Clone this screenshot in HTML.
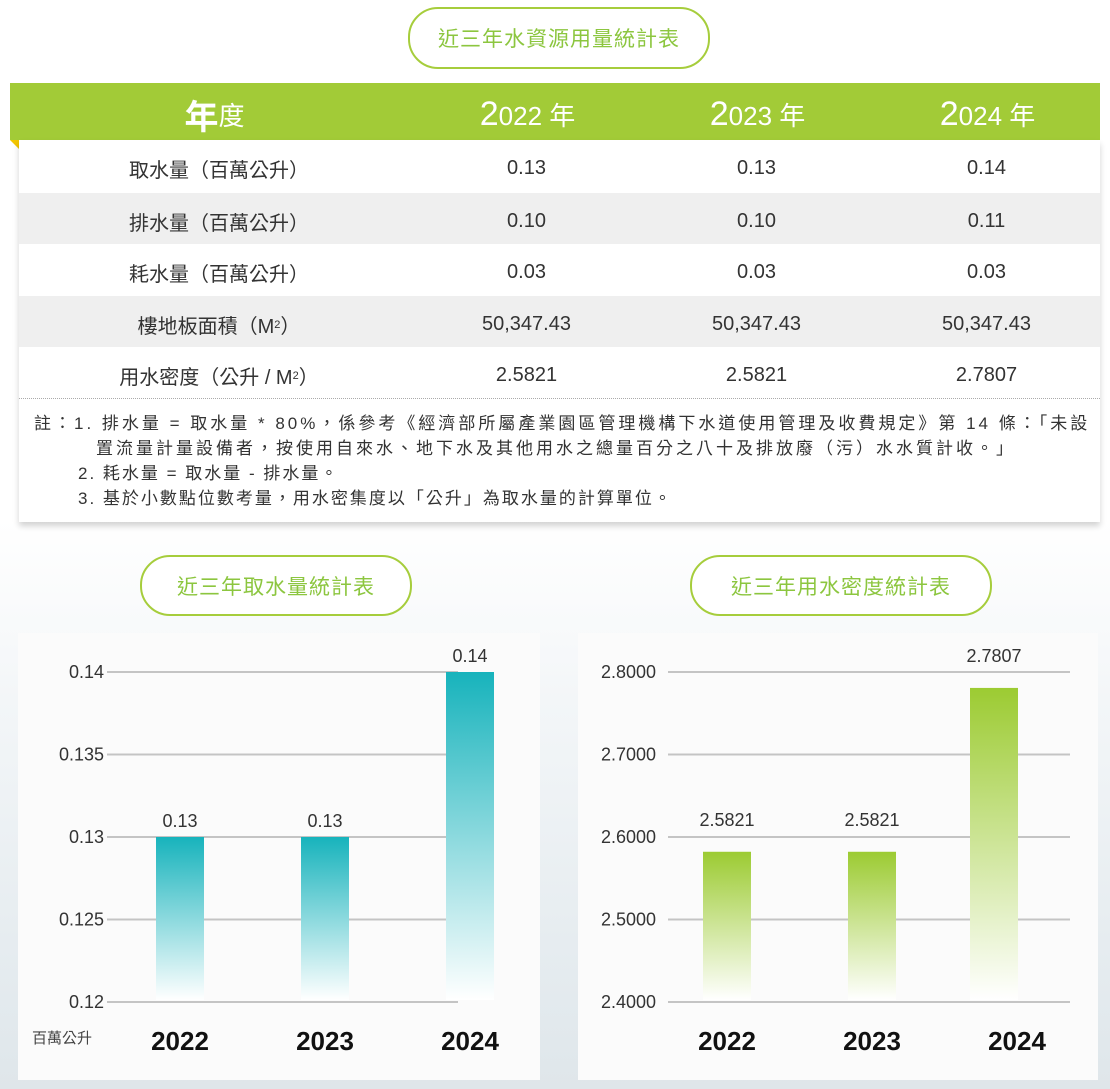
<!DOCTYPE html>
<html><head><meta charset="utf-8">
<style>
*{margin:0;padding:0;box-sizing:border-box}
body{width:1110px;height:1089px;overflow:hidden;position:relative;font-family:"Liberation Sans","Noto Sans CJK TC",sans-serif;background:linear-gradient(#fff 0,#fff 520px,#f3f6f8 700px,#e3eaee 1000px,#dfe6ea 1089px);color:#333}
.pill{position:absolute;border:2.5px solid #a6cd3c;border-radius:30px;background:#fff;color:#8cc63f;font-size:21px;display:flex;align-items:center;justify-content:center;letter-spacing:1px}
#hdr{position:absolute;left:10px;top:83px;width:1090px;height:57px;background:#a2cb37;color:#fff;font-size:26px}
#hdr div,.row div{position:absolute;top:3px;height:100%;display:flex;align-items:center;justify-content:center}
#tbl{position:absolute;left:19px;top:140px;width:1081px;height:382px;background:#fff;box-shadow:0 4px 6px rgba(0,0,0,.18)}
.row{position:absolute;left:0;width:1081px;height:51px;font-size:20px;color:#333}
.c0{left:0;width:400px}.c1{left:400px;width:215px}.c2{left:630px;width:215px}.c3{left:860px;width:215px}
#note{position:absolute;left:15px;top:271px;font-size:17px;line-height:25px;color:#333;white-space:nowrap}
.panel{position:absolute;background:#fbfbfb}
svg text{font-family:"Liberation Sans","Noto Sans CJK TC",sans-serif}
</style></head><body>
<div class="pill" style="left:408px;top:7px;width:302px;height:62px">近三年水資源用量統計表</div>
<div id="hdr">
<div style="left:0;width:409px"><span style="font-size:34px;font-weight:bold">年</span>度</div>
<div style="left:410px;width:215px"><span style="font-size:34px">2</span>022 年</div>
<div style="left:640px;width:215px"><span style="font-size:34px">2</span>023 年</div>
<div style="left:870px;width:215px"><span style="font-size:34px">2</span>024 年</div>
</div>
<div style="position:absolute;left:10px;top:140px;width:0;height:0;border-top:9px solid #f2c500;border-left:9px solid transparent"></div>
<div id="tbl">
<div class="row" style="top:0;background:#fff"><div class="c0">取水量（百萬公升）</div><div class="c1">0.13</div><div class="c2">0.13</div><div class="c3">0.14</div></div>
<div class="row" style="top:53px;height:51px;background:#efefef"><div class="c0">排水量（百萬公升）</div><div class="c1">0.10</div><div class="c2">0.10</div><div class="c3">0.11</div></div>
<div class="row" style="top:104px;background:#fff"><div class="c0">耗水量（百萬公升）</div><div class="c1">0.03</div><div class="c2">0.03</div><div class="c3">0.03</div></div>
<div class="row" style="top:156px;background:#efefef"><div class="c0">樓地板面積（M<sup style="font-size:11px">2</sup>）</div><div class="c1">50,347.43</div><div class="c2">50,347.43</div><div class="c3">50,347.43</div></div>
<div class="row" style="top:207px;background:#fff"><div class="c0">用水密度（公升 / M<sup style="font-size:11px">2</sup>）</div><div class="c1">2.5821</div><div class="c2">2.5821</div><div class="c3">2.7807</div></div>
<div style="position:absolute;left:0;top:258px;width:1081px;border-top:1.5px dotted #aaa"></div>
<div id="note">
<div style="letter-spacing:3px">註：1. 排水量 = 取水量 * 80%，係參考《經濟部所屬產業園區管理機構下水道使用管理及收費規定》第 14 條：「未設</div>
<div style="padding-left:62px;letter-spacing:3px">置流量計量設備者，按使用自來水、地下水及其他用水之總量百分之八十及排放廢（污）水水質計收。」</div>
<div style="padding-left:44px;letter-spacing:2px">2. 耗水量 = 取水量 - 排水量。</div>
<div style="padding-left:44px;letter-spacing:2px">3. 基於小數點位數考量，用水密集度以「公升」為取水量的計算單位。</div>
</div>
</div>
<div class="panel" style="left:18px;top:633px;width:522px;height:447px"></div>
<div class="panel" style="left:578px;top:633px;width:520px;height:447px"></div>
<div class="pill" style="left:140px;top:555px;width:272px;height:61px">近三年取水量統計表</div>
<div class="pill" style="left:690px;top:555px;width:302px;height:61px">近三年用水密度統計表</div>
<svg id="svg" width="1110" height="1089" style="position:absolute;left:0;top:0">
<defs>
<linearGradient id="gt" x1="0" y1="0" x2="0" y2="1"><stop offset="0" stop-color="#17b3bc"/><stop offset="1" stop-color="#ffffff"/></linearGradient>
<linearGradient id="gg" x1="0" y1="0" x2="0" y2="1"><stop offset="0" stop-color="#9ccb32"/><stop offset="1" stop-color="#ffffff"/></linearGradient>
</defs>
</svg>
<script>
const categories=["2022","2023","2024"];
const intakeValues=[0.13,0.13,0.14];
const intakeLabels=["0.13","0.13","0.14"];
const intakeTicks=[0.12,0.125,0.13,0.135,0.14];
const intakeTickLabels=["0.12","0.125","0.13","0.135","0.14"];
const densityValues=[2.5821,2.5821,2.7807];
const densityLabels=["2.5821","2.5821","2.7807"];
const densityTicks=[2.4,2.5,2.6,2.7,2.8];
const densityTickLabels=["2.4000","2.5000","2.6000","2.7000","2.8000"];
const svg=document.getElementById('svg');
const NS='http://www.w3.org/2000/svg';
function mk(t,a,txt){const e=document.createElementNS(NS,t);for(const k in a)e.setAttribute(k,a[k]);if(txt!=null)e.textContent=txt;svg.appendChild(e);return e;}
function chart(o){
  const y=v=>1002-(v-o.min)/(o.max-o.min)*330;
  const x=i=>o.x0+i*145;
  o.ticks.forEach((t,i)=>{
    const l=mk('line',{x1:o.gx1,x2:o.gx2,y1:y(t),y2:y(t),stroke:'#c4c4c4','stroke-width':2});
    
    
    const tx=mk('text',{x:o.tx,y:y(t)+6,'text-anchor':'end','font-size':18,fill:'#333'},o.tickLabels[i]);
    
    
  });
  o.values.forEach((v,i)=>{
    const bx=x(i)-(i===2?o.shift:0);
    const r=mk('rect',{x:bx-24,y:y(v),width:48,height:1000-y(v),fill:o.fill});
    
    
    const t=mk('text',{x:bx,y:y(v)-o.lo,'text-anchor':'middle','font-size':18,fill:'#333'},o.labels[i]);
    
    
    const c=mk('text',{x:x(i),y:1050,'text-anchor':'middle','font-size':26,'font-weight':'bold',fill:'#111'},categories[i]);
    
    
  });
}
chart({p:'intake',min:0.12,max:0.14,ticks:intakeTicks,tickLabels:intakeTickLabels,values:intakeValues,labels:intakeLabels,x0:180,gx1:107,gx2:458,tx:104,fill:'url(#gt)',lo:10,shift:0});
chart({p:'density',min:2.4,max:2.8,ticks:densityTicks,tickLabels:densityTickLabels,values:densityValues,labels:densityLabels,x0:727,gx1:668,gx2:1070,tx:656,fill:'url(#gg)',lo:26,shift:23});
const u=mk('text',{x:92,y:1043,'text-anchor':'end','font-size':15,fill:'#444'},'百萬公升');


</script>
</body></html>
